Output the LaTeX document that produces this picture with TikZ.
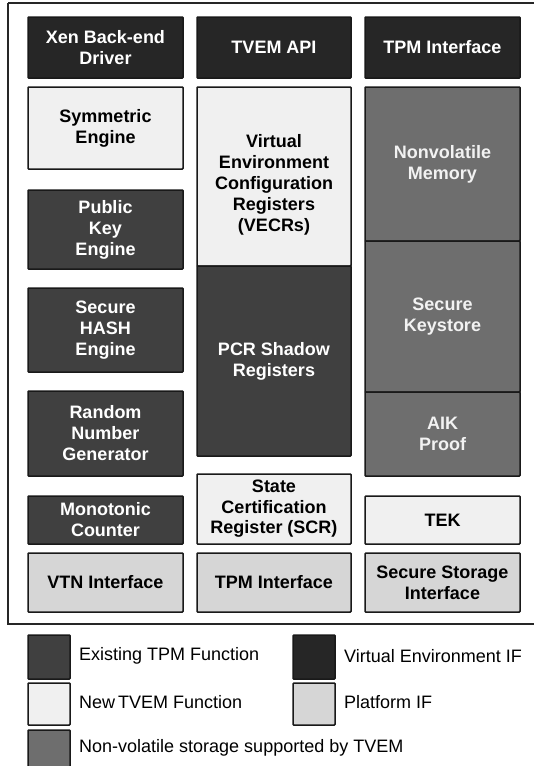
\documentclass[tikz,border=0pt]{standalone}
\usepackage{fontspec}
\setmainfont{Liberation Sans}
\begin{document}
\begin{tikzpicture}[x=1pt,y=-1pt,
  every node/.style={inner sep=0pt},
  box/.style={draw=black!90,line width=1.5pt,rounded corners=0.8pt,align=center,
    font=\bfseries\fontsize{18}{21}\selectfont},
  veif/.style={box,fill=black!85,text=white},
  tpm/.style={box,fill=black!75,text=white},
  newf/.style={box,fill=black!6,text=black},
  platf/.style={box,fill=black!16,text=black},
  nvs/.style={box,fill=black!57,text=black!5},
  legsq/.style={draw=black!90,line width=1.5pt,rounded corners=0.8pt},
  legtxt/.style={anchor=west,font=\fontsize{18}{21}\selectfont}]
\useasboundingbox (0,0) rectangle (533,766);
\fill[white] (0,0) rectangle (533,766);
% outer frame
\draw[line width=1.3pt,black!85] (8,3) -- (540,3) (8,3) -- (8,624) -- (540,624);
% column 1
\node[veif,minimum width=155pt,minimum height=61pt] (xen) at (105.5,47.5) {Xen Back-end\\Driver};
\node[newf,minimum width=155pt,minimum height=82pt] (sym) at (105.5,128) {Symmetric\\Engine};
\node[tpm,minimum width=155pt,minimum height=79pt] (pke) at (105.5,229.5) {Public\\Key\\Engine};
\node[tpm,minimum width=155pt,minimum height=84pt] (hash) at (105.5,330) {Secure\\HASH\\Engine};
\node[tpm,minimum width=155pt,minimum height=85pt] (rng) at (105.5,433.5) {Random\\Number\\Generator};
\node[tpm,minimum width=155pt,minimum height=48pt] (mono) at (105.5,520) {Monotonic\\Counter};
\node[platf,minimum width=155pt,minimum height=59pt] (vtn) at (105.5,582.5) {VTN Interface};
% column 2
\node[veif,minimum width=154pt,minimum height=61pt] (api) at (274,47.5) {TVEM API};
\node[newf,minimum width=154pt,minimum height=179pt] (vecr) at (274,176.5) {};
\node[align=center,font=\bfseries\fontsize{18}{21}\selectfont] (vecrt) at (274,185) {Virtual\\Environment\\Configuration\\Registers\\(VECRs)};
\node[tpm,minimum width=154pt,minimum height=190pt] (pcr) at (274,361) {PCR Shadow\\Registers};
\node[newf,minimum width=154pt,minimum height=70pt,font=\bfseries\fontsize{18}{20.5}\selectfont] (scr) at (274,509) {State\\Certification\\Register (SCR)};
\node[platf,minimum width=154pt,minimum height=59pt] (tpmif2) at (274,582.5) {TPM Interface};
% column 3
\node[veif,minimum width=155pt,minimum height=61pt] (tpmif) at (442.5,47.5) {TPM Interface};
\node[nvs,minimum width=155pt,minimum height=154pt] (nvm) at (442.5,164) {Nonvolatile\\Memory};
\node[nvs,minimum width=155pt,minimum height=151pt] (ks) at (442.5,316.5) {Secure\\Keystore};
\node[nvs,minimum width=155pt,minimum height=84pt] (aik) at (442.5,434) {AIK\\Proof};
\node[newf,minimum width=155pt,minimum height=48pt] (tek) at (442.5,520) {TEK};
\node[platf,minimum width=155pt,minimum height=59pt] (ssi) at (442.5,582.5) {Secure Storage\\Interface};
% legend
\node[legsq,fill=black!75,minimum width=42pt,minimum height=44pt] (l1) at (49,657) {};
\node[legtxt] (t1) at (79,656) {Existing TPM Function};
\node[legsq,fill=black!85,minimum width=42pt,minimum height=44pt] (l2) at (314,657) {};
\node[legtxt] (t2) at (344,656) {Virtual Environment IF};
\node[legsq,fill=black!6,minimum width=42pt,minimum height=42pt] (l3) at (49,704) {};
\node[legtxt] (t3) at (79,702) {New\,TVEM Function};
\node[legsq,fill=black!16,minimum width=42pt,minimum height=42pt] (l4) at (314,704) {};
\node[legtxt] (t4) at (344,702) {Platform IF};
\node[legsq,fill=black!57,minimum width=42pt,minimum height=44pt] (l5) at (49,752) {};
\node[legtxt] (t5) at (79,748) {Non-volatile storage supported by TVEM};
\end{tikzpicture}
\end{document}
